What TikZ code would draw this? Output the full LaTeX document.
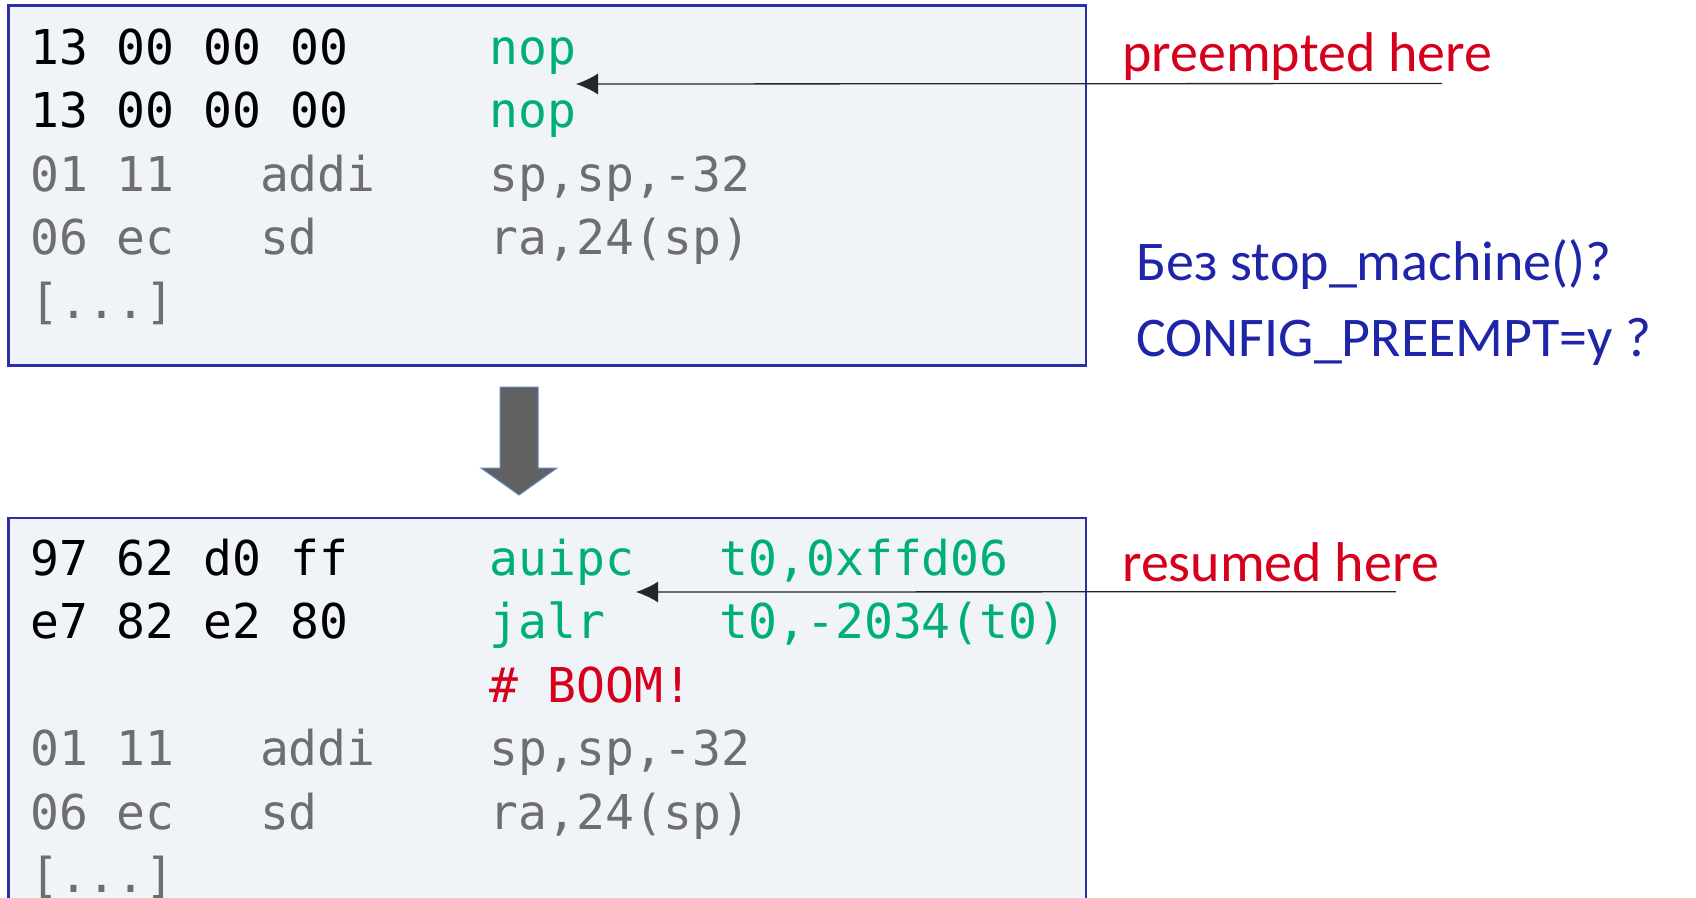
\documentclass[tikz,border=0pt]{standalone}
\usepackage{fontspec}
\setmonofont{DejaVu Sans Mono}
\newfontfamily\notefont{Carlito}
\usetikzlibrary{arrows.meta}
\definecolor{boxfill}{HTML}{F0F3F7}
\definecolor{boxline}{HTML}{2B30A6}
\definecolor{opgreen}{HTML}{00AE78}
\definecolor{alertred}{HTML}{D6001C}
\definecolor{dimgray}{HTML}{6E6E6E}
\definecolor{noteblue}{HTML}{1E25A8}
\definecolor{shaftgray}{HTML}{616161}
\definecolor{shaftrim}{HTML}{5E8AC8}
\tikzset{codebox/.style={draw=boxline,fill=boxfill,line width=2.5pt}}
\tikzset{codetxt/.style={anchor=base west,inner sep=0pt,font=\ttfamily\fontsize{48}{58}\selectfont}}
\tikzset{hexbytes/.style={codetxt,text=black}}
\tikzset{opcode/.style={codetxt,text=opgreen}}
\tikzset{dimcode/.style={codetxt,text=dimgray}}
\tikzset{boomtxt/.style={codetxt,text=alertred}}
\tikzset{notetxt/.style={anchor=base west,inner sep=0pt,font=\notefont\fontsize{56}{60}\selectfont}}
\tikzset{pointer/.style={draw=black!85,line width=1.3pt,-{Latex[length=22pt,width=21pt]}}}

\begin{document}
\begin{tikzpicture}[x=1pt,y=1pt]
    \useasboundingbox (0,0) rectangle (1696,-897);
    % listing before
    \draw [codebox] (8.6,-5.4) rectangle (1086,-365.6);
    \node [hexbytes] (tA) at (30,-64) {13 00 00 00};
    \node [opcode] (tAop) at (489.7,-64) {nop};
    \node [hexbytes] (tB) at (30,-127.5) {13 00 00 00};
    \node [opcode] (tBop) at (489.7,-127.5) {nop};
    \node [dimcode] (tC) at (30,-191) {01 11};
    \node [dimcode] (tCop) at (259.8,-191) {addi};
    \node [dimcode] (tCarg) at (489.7,-191) {sp,sp,-32};
    \node [dimcode] (tD) at (30,-254.5) {06 ec};
    \node [dimcode] (tDop) at (259.8,-254.5) {sd};
    \node [dimcode] (tDarg) at (489.7,-254.5) {ra,24(sp)};
    \node [dimcode] (tE) at (30,-318) {[...]};
    % big arrow between
    \draw [fill=shaftgray,draw=shaftrim,line width=1pt]
        (500,-387) -- ++(38,0) -- ++(0,-81) -- ++(19,0)
        -- (519,-495) -- (481,-468) -- ++(19,0) -- cycle;
    % listing after
    \draw [codebox] (8.6,-518) rectangle (1086,-930);
    \node [hexbytes] (bA) at (30,-575) {97 62 d0 ff};
    \node [opcode] (bAop) at (489.7,-575) {auipc};
    \node [opcode] (bAarg) at (719.5,-575) {t0,0xffd06};
    \node [hexbytes] (bB) at (30,-638.5) {e7 82 e2 80};
    \node [opcode] (bBop) at (489.7,-638.5) {jalr};
    \node [opcode] (bBarg) at (719.5,-638.5) {t0,-2034(t0)};
    \node [boomtxt] (bC) at (489.7,-702) {\# BOOM!};
    \node [dimcode] (bD) at (30,-765.5) {01 11};
    \node [dimcode] (bDop) at (259.8,-765.5) {addi};
    \node [dimcode] (bDarg) at (489.7,-765.5) {sp,sp,-32};
    \node [dimcode] (bE) at (30,-829) {06 ec};
    \node [dimcode] (bEop) at (259.8,-829) {sd};
    \node [dimcode] (bEarg) at (489.7,-829) {ra,24(sp)};
    \node [dimcode] (bF) at (30,-892.5) {[...]};
    % notes
    \node [notetxt,text=alertred] (preempted) at (1122,-71.7) {preempted here};
    \node [notetxt,text=alertred] (resumed) at (1122,-581) {resumed here};
    \node [notetxt,text=noteblue] (qstop) at (1136,-280) {Без stop\_machine()?};
    \node [notetxt,text=noteblue] (qconf) at (1136,-356.7) {CONFIG\_PREEMPT=y ?};
    \coordinate (preTail) at (1442,-83.5);
    \coordinate (preTip) at (576,-84);
    \coordinate (resTail) at (1396,-591.7);
    \coordinate (resTip) at (636,-592);
    \draw [pointer] (preTail) -- (preTip);
    \draw [pointer] (resTail) -- (resTip);
\end{tikzpicture}
\end{document}
